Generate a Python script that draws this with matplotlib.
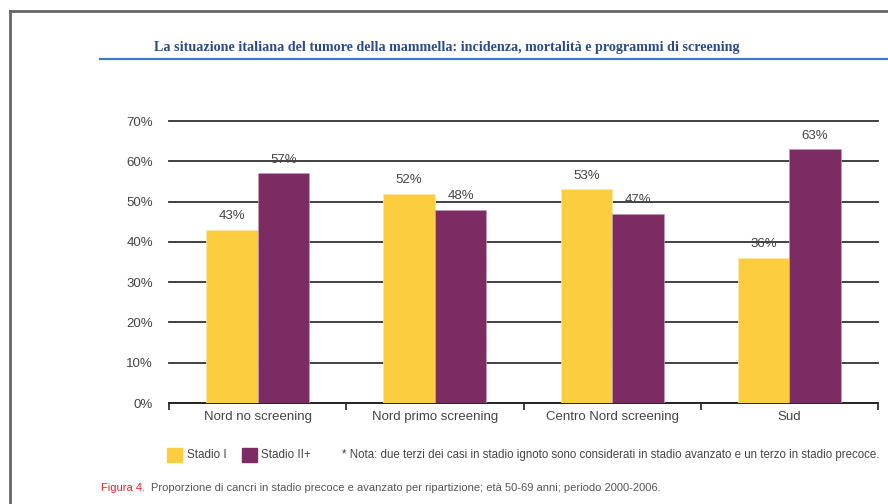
# coding: utf-8
"""
Proporzione di cancri in stadio precoce e avanzato per ripartizione
"""

# %% libraries
import numpy as np
import matplotlib.pyplot as plt
from matplotlib.lines import Line2D
from matplotlib.patches import Rectangle

# %% data
areas = ['Nord no screening', 'Nord primo screening',
         'Centro Nord screening', 'Sud']
stadio_1 = [43, 52, 53, 36]
stadio_2 = [57, 48, 47, 63]
series_names = ['Stadio I', 'Stadio II+']
y_ticks = [0, 10, 20, 30, 40, 50, 60, 70]

yellow = '#FDCD40'
purple = '#7D2B63'
txt = '#444444'

# %% figure framework
fig = plt.figure(figsize=(8.88, 5.04), dpi=100)
ax = fig.add_axes([169 / 888, 1 - 403 / 504, 709 / 888, 282 / 504])

# page border and header rule
fig.add_artist(Line2D([10 / 888, 1], [1 - 11 / 504] * 2, color='#666666',
                      lw=2, transform=fig.transFigure))
fig.add_artist(Line2D([10 / 888] * 2, [0, 1 - 11 / 504], color='#666666',
                      lw=2, transform=fig.transFigure))
fig.add_artist(Line2D([100 / 888, 1], [1 - 58.5 / 504] * 2, color='#3C7CC4',
                      lw=1.6, transform=fig.transFigure))
fig.text(447 / 888, 1 - 47 / 504,
         'La situazione italiana del tumore della mammella: incidenza, '
         'mortalità e programmi di screening',
         ha='center', va='center', fontsize=10.2, color='#2B4A8A',
         family='Liberation Serif', weight='bold')

# %% bars
pos = np.arange(len(areas)) + 0.5
w = 0.29
b1 = ax.bar(pos - w / 2, stadio_1, width=w, color=yellow, zorder=3,
            edgecolor='#FFE9A8', lw=0.5)
b2 = ax.bar(pos + w / 2, stadio_2, width=w, color=purple, zorder=3,
            edgecolor='#C79AB8', lw=0.5)

for bars, vals in [(b1, stadio_1), (b2, stadio_2)]:
    for r, v in zip(bars, vals):
        ax.text(r.get_x() + r.get_width() / 2, v + 1.9, '%d%%' % v,
                ha='center', va='bottom', fontsize=9.5, color=txt,
                family='Liberation Sans')

# %% axis properties
ax.set_xlim(0, len(areas))
ax.set_ylim(0, 70)
ax.set_yticks(y_ticks)
ax.set_yticklabels(['%d%%' % t for t in y_ticks], fontsize=9.5, color=txt,
                   family='Liberation Sans')
ax.set_xticks(np.arange(len(areas) + 1))
ax.set_xticklabels([])
ax.set_xticks(pos, minor=True)
ax.set_xticklabels(areas, minor=True, fontsize=9.5, color=txt,
                   family='Liberation Sans')
ax.tick_params(axis='y', length=0, pad=11.5)
ax.tick_params(axis='x', which='major', length=5, width=1.2, color='#222222')
ax.tick_params(axis='x', which='minor', length=0, pad=6)

for s in ['top', 'right', 'left']:
    ax.spines[s].set_visible(False)
ax.spines['bottom'].set_color('#222222')
ax.spines['bottom'].set_linewidth(1.2)

# grid
ax.grid(True, axis='y', color='#333333', lw=1.3, zorder=0)
ax.set_axisbelow(True)
for gl in ax.get_ygridlines():
    gl.set_clip_on(False)

# %% legend and notes
for x0, col, name, tx in [(167, yellow, series_names[0], 187),
                          (242, purple, series_names[1], 261)]:
    fig.add_artist(Rectangle((x0 / 888, 1 - 462 / 504), 15 / 888, 14 / 504,
                             color=col, transform=fig.transFigure))
    fig.text(tx / 888, 1 - 455 / 504, name, ha='left', va='center',
             fontsize=8.4, color=txt, family='Liberation Sans')

fig.text(342 / 888, 1 - 455 / 504,
         '* Nota: due terzi dei casi in stadio ignoto sono considerati in '
         'stadio avanzato e un terzo in stadio precoce.',
         ha='left', va='center', fontsize=8.3, color=txt,
         family='Liberation Sans')

fig.text(101 / 888, 1 - 488 / 504, 'Figura 4.', ha='left', va='center',
         fontsize=8.0, color='#E8202A', family='Liberation Sans')
fig.text(151 / 888, 1 - 488 / 504,
         'Proporzione di cancri in stadio precoce e avanzato per ripartizione; '
         'età 50-69 anni; periodo 2000-2006.',
         ha='left', va='center', fontsize=8.0, color='#555555',
         family='Liberation Sans')

# save plot to file
plt.savefig('out.png', dpi=100)
